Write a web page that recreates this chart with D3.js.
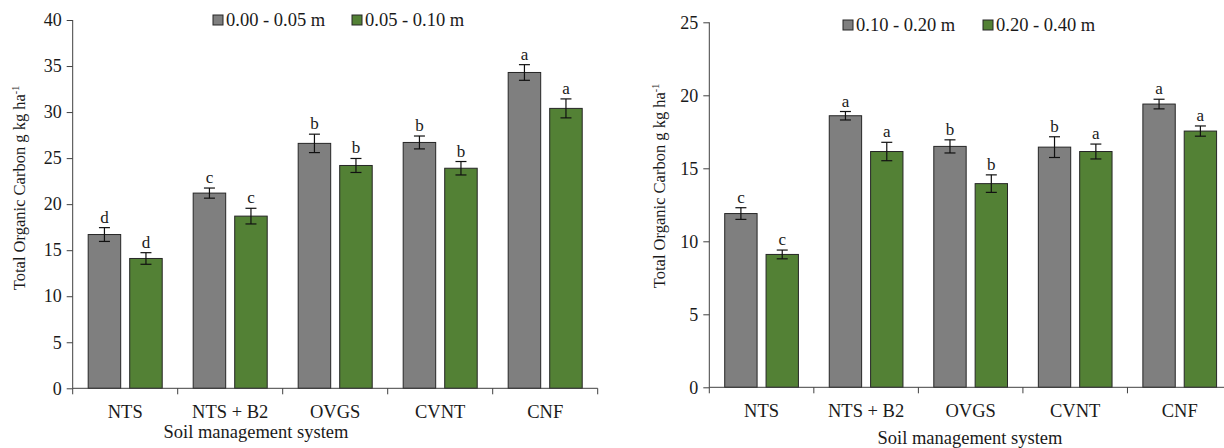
<!DOCTYPE html>
<html>
<head>
<meta charset="utf-8">
<script src="https://cdn.jsdelivr.net/npm/d3@7"></script>
<style>
  body { margin: 0; background: #fff; }
  svg { display: block; }
  svg text { font-family: "Liberation Serif", "Times New Roman", serif !important; }
</style>
</head>
<body>
<div id="chart"></div>
<script>
const systems = ['NTS', 'NTS + B2', 'OVGS', 'CVNT', 'CNF']

// left panel: shallow depths
const depthsTop = ['0.00 - 0.05 m', '0.05 - 0.10 m']
const tocTop1 = [16.7, 21.2, 26.6, 26.7, 34.3]
const tocTop2 = [14.1, 18.7, 24.2, 23.9, 30.4]
const errTop1 = [0.75, 0.55, 1.0, 0.7, 0.85]
const errTop2 = [0.63, 0.85, 0.76, 0.73, 1.03]
const letTop1 = ['d', 'c', 'b', 'b', 'a']
const letTop2 = ['d', 'c', 'b', 'b', 'a']
const ticksTop = [0, 5, 10, 15, 20, 25, 30, 35, 40]

// right panel: deeper layers
const depthsSub = ['0.10 - 0.20 m', '0.20 - 0.40 m']
const tocSub1 = [11.9, 18.6, 16.5, 16.45, 19.4]
const tocSub2 = [9.1, 16.15, 13.95, 16.15, 17.55]
const errSub1 = [0.4, 0.29, 0.45, 0.71, 0.33]
const errSub2 = [0.3, 0.63, 0.6, 0.51, 0.35]
const letSub1 = ['c', 'a', 'b', 'b', 'a']
const letSub2 = ['c', 'a', 'b', 'a', 'a']
const ticksSub = [0, 5, 10, 15, 20, 25]

const colors = ['#7f7f7f', '#538135']

const svg = d3.select('#chart')
  .append('svg')
  .attr('width', 1224)
  .attr('height', 448)

function drawPanel(p) {
  const g = svg.append('g')

  const x = d3.scaleBand()
    .domain(systems)
    .range([p.left, p.right])
    .paddingInner(0)
    .paddingOuter(0)

  const xSub = d3.scaleBand()
    .domain([0, 1])
    .range([0, x.bandwidth()])
    .paddingInner(0.217)
    .paddingOuter(0.373)

  const y = d3.scaleLinear()
    .domain([0, d3.max(p.ticks)])
    .range([p.bottom, p.top])

  const rows = []
  systems.forEach((s, i) => {
    p.values.forEach((vals, k) => {
      rows.push({ sys: s, k, v: vals[i], e: p.errors[k][i], l: p.letters[k][i] })
    })
  })

  // bars
  g.append('g')
    .selectAll('rect')
    .data(rows)
    .join('rect')
    .attr('x', d => x(d.sys) + xSub(d.k))
    .attr('y', d => y(d.v))
    .attr('width', xSub.bandwidth())
    .attr('height', d => y(0) - y(d.v))
    .attr('fill', d => colors[d.k])
    .attr('stroke', '#262626')
    .attr('stroke-width', 1)

  // error bars
  const eb = g.append('g')
    .attr('stroke', '#111')
    .attr('stroke-width', 1.2)
    .selectAll('g')
    .data(rows)
    .join('g')
    .attr('transform', d => `translate(${x(d.sys) + xSub(d.k) + xSub.bandwidth() / 2},0)`)

  eb.append('line')
    .attr('y1', d => y(d.v + d.e))
    .attr('y2', d => y(d.v - d.e))
  eb.append('line')
    .attr('x1', -5.5).attr('x2', 5.5)
    .attr('y1', d => y(d.v + d.e))
    .attr('y2', d => y(d.v + d.e))
  eb.append('line')
    .attr('x1', -5.5).attr('x2', 5.5)
    .attr('y1', d => y(d.v - d.e))
    .attr('y2', d => y(d.v - d.e))

  // significance letters
  g.append('g')
    .selectAll('text')
    .data(rows)
    .join('text')
    .attr('x', d => x(d.sys) + xSub(d.k) + xSub.bandwidth() / 2)
    .attr('y', d => y(d.v + d.e) - 5)
    .attr('text-anchor', 'middle')
    .attr('font-size', 17)
    .attr('fill', '#1a1a1a')
    .text(d => d.l)

  // y axis
  const yAxis = g.append('g')
    .attr('transform', `translate(${p.left},0)`)
    .call(d3.axisLeft(y).tickValues(p.ticks).tickSize(6).tickPadding(5))
    .attr('font-size', 18)
  yAxis.selectAll('text').attr('fill', '#1a1a1a')
  yAxis.selectAll('line, path').attr('stroke', '#404040')
  yAxis.select('.domain').attr('d', `M0,${p.bottom}V${p.top}`)

  // x axis: ticks on category edges
  const xAxis = g.append('g')
    .attr('transform', `translate(0,${p.bottom})`)
  xAxis.append('line')
    .attr('x1', p.left).attr('x2', p.right)
    .attr('stroke', '#404040')
  xAxis.selectAll('.edge')
    .data(systems.map(s => x(s)).concat([p.right]))
    .join('line')
    .attr('class', 'edge')
    .attr('x1', d => d).attr('x2', d => d)
    .attr('y1', 0).attr('y2', 6)
    .attr('stroke', '#404040')
  xAxis.selectAll('.cat')
    .data(systems)
    .join('text')
    .attr('class', 'cat')
    .attr('x', d => x(d) + x.bandwidth() / 2)
    .attr('y', 30)
    .attr('text-anchor', 'middle')
    .attr('font-size', 18.5)
    .attr('fill', '#1a1a1a')
    .text(d => d)

  // axis titles
  g.append('text')
    .attr('x', p.xTitleX)
    .attr('y', p.xTitleY)
    .attr('text-anchor', 'middle')
    .attr('font-size', 18.5)
    .attr('fill', '#1a1a1a')
    .text('Soil management system')

  const yt = g.append('text')
    .attr('transform', `translate(${p.yTitleX},${p.yTitleY}) rotate(-90)`)
    .attr('text-anchor', 'middle')
    .attr('font-size', 16.5)
    .attr('fill', '#1a1a1a')
  yt.append('tspan').text('Total Organic Carbon g kg ha')
  yt.append('tspan').attr('font-size', 10).attr('dy', -6).text('-1')

  // legend
  const leg = g.append('g')
    .selectAll('g')
    .data(p.labels)
    .join('g')
    .attr('transform', (d, i) => `translate(${p.legendX[i]},${p.legendY})`)
  leg.append('rect')
    .attr('x', 0).attr('y', -5)
    .attr('width', 10).attr('height', 10)
    .attr('fill', (d, i) => colors[i])
    .attr('stroke', '#262626')
  leg.append('text')
    .attr('x', 13)
    .attr('y', 6)
    .attr('font-size', 18.5)
    .attr('fill', '#1a1a1a')
    .text(d => d)
}

drawPanel({
  left: 72.7, right: 597.7, top: 20, bottom: 388.3,
  ticks: ticksTop,
  values: [tocTop1, tocTop2],
  errors: [errTop1, errTop2],
  letters: [letTop1, letTop2],
  labels: depthsTop,
  legendX: [213, 352], legendY: 20,
  xTitleX: 256, xTitleY: 438,
  yTitleX: 25, yTitleY: 188
})

drawPanel({
  left: 709.3, right: 1232, top: 22.3, bottom: 387.3,
  ticks: ticksSub,
  values: [tocSub1, tocSub2],
  errors: [errSub1, errSub2],
  letters: [letSub1, letSub2],
  labels: depthsSub,
  legendX: [843, 983], legendY: 25,
  xTitleX: 970, xTitleY: 444,
  yTitleX: 665, yTitleY: 186
})
</script>
</body>
</html>
